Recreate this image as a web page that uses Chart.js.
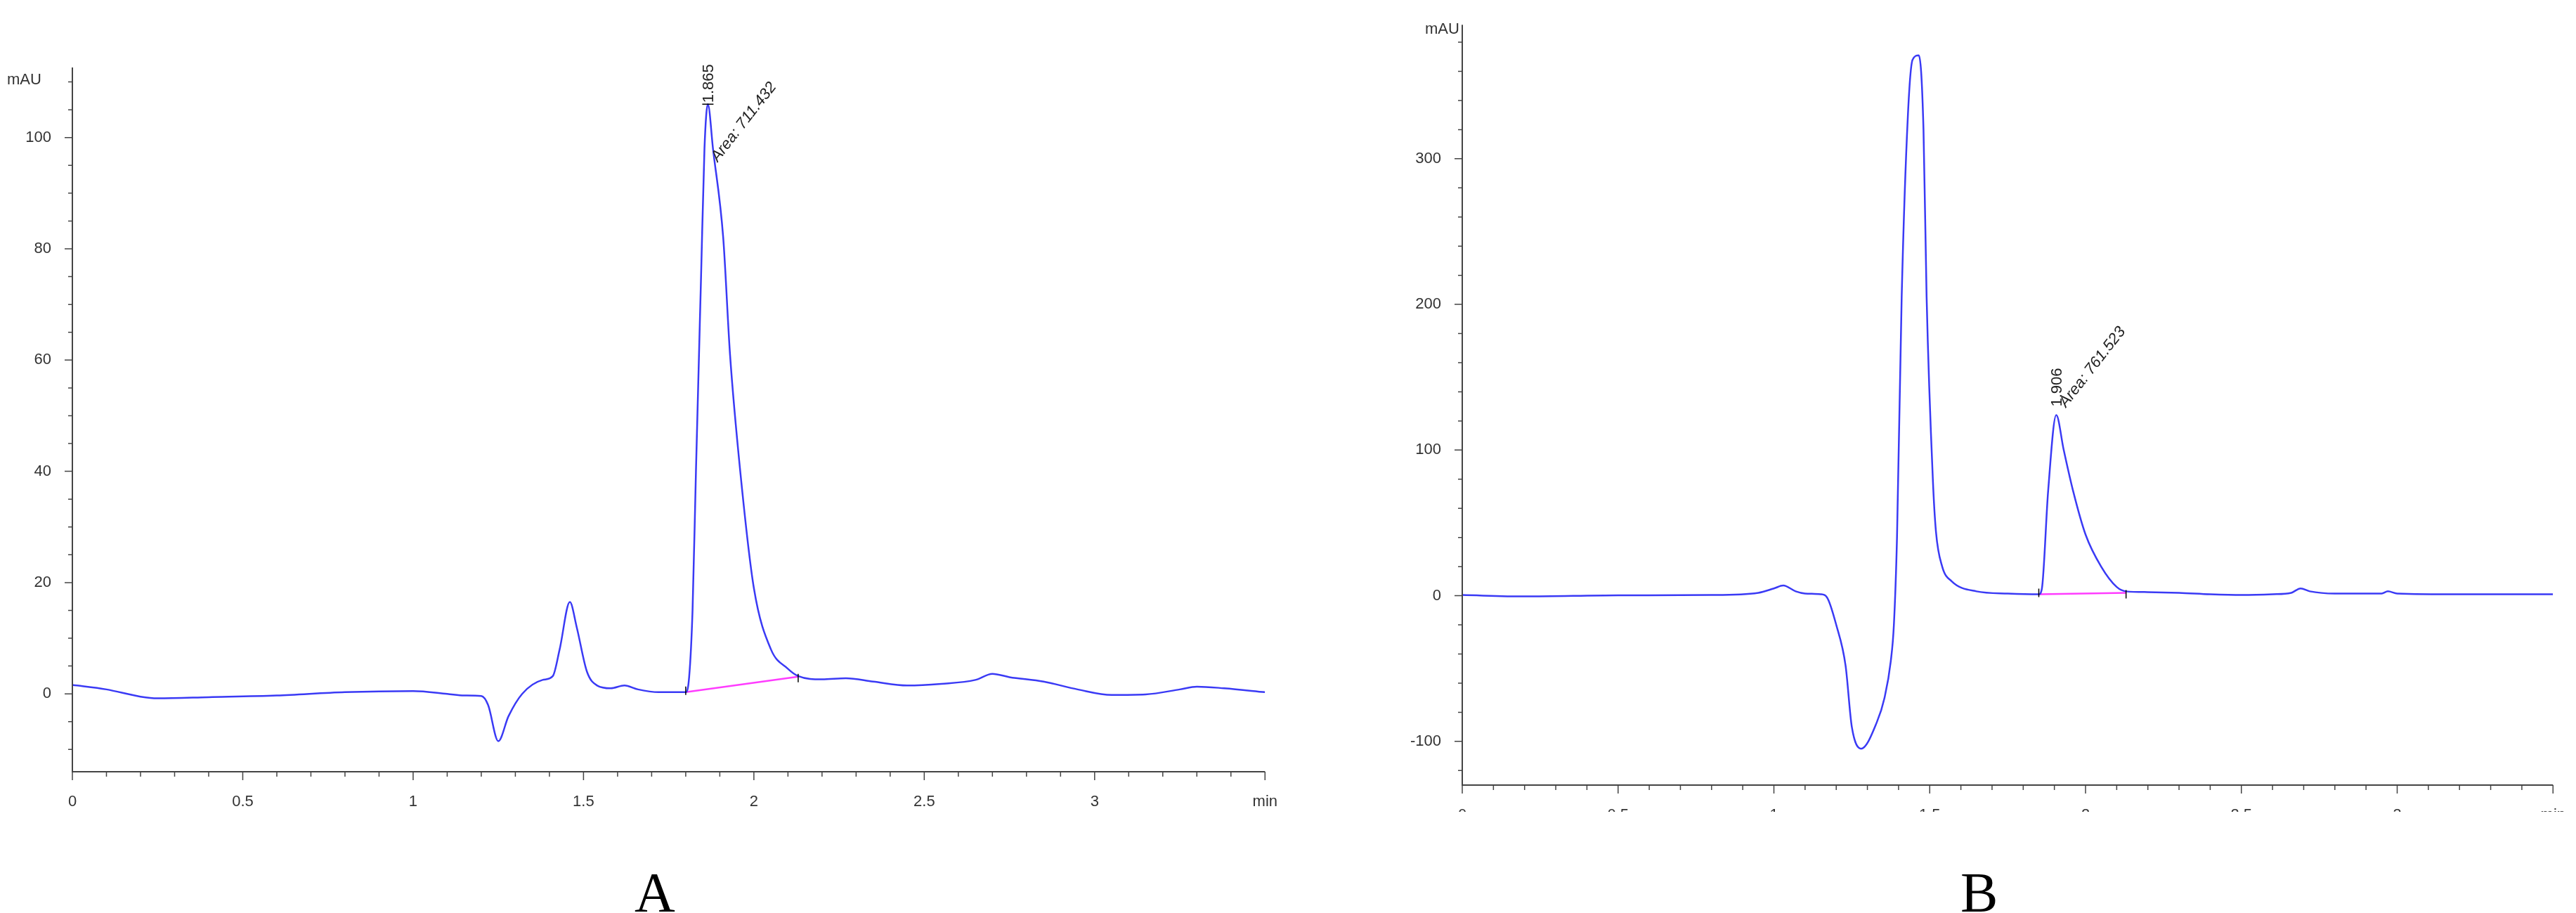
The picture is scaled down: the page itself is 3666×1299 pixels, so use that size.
<!DOCTYPE html>
<html>
<head>
<meta charset="utf-8">
<script src="https://cdn.jsdelivr.net/npm/chart.js@4.4.1/dist/chart.umd.min.js"></script>
<style>
  body { margin: 0; background: #fff; width: 3666px; height: 1299px; position: relative; overflow: hidden; }
  .box { position: absolute; top: 0; overflow: hidden; }
  .lbl { position: absolute; top: 1225px; font: 80px "Liberation Serif", serif; color: #000; }
</style>
</head>
<body>
<div class="box" style="left:0;width:1840px;height:1180px"><canvas id="chartA" width="1840" height="1180"></canvas></div>
<div class="box" style="left:1833px;width:1833px;height:1155px"><canvas id="chartB" width="1840" height="1180"></canvas></div>
<div class="lbl" style="left:903px">A</div>
<div class="lbl" style="left:2790px">B</div>
<script>
// Chromatogramme A
const timeA = [0, 0.1, 0.2, 0.25, 0.4, 0.6, 0.8, 1.0, 1.1, 1.15, 1.2, 1.22, 1.25, 1.28, 1.32, 1.38, 1.41, 1.43, 1.46, 1.48, 1.51, 1.54, 1.58, 1.62, 1.66, 1.72, 1.8, 1.81, 1.82, 1.83, 1.845, 1.855, 1.865, 1.88, 1.91, 1.93, 1.96, 2.0, 2.05, 2.1, 2.13, 2.2, 2.27, 2.35, 2.45, 2.55, 2.65, 2.7, 2.75, 2.85, 2.95, 3.05, 3.15, 3.25, 3.3, 3.38, 3.5];
const signalA = [1.6, 0.8, -0.5, -0.8, -0.6, -0.3, 0.3, 0.5, 0, -0.3, -0.4, -2, -8.5, -4, 0, 2.5, 3.2, 8, 16.5, 12, 4, 1.5, 1, 1.5, 0.8, 0.3, 0.3, 3, 15, 40, 75, 98, 106, 98, 82, 61, 40, 19, 8, 4.5, 3.2, 2.6, 2.8, 2.2, 1.5, 1.8, 2.5, 3.6, 3, 2.2, 0.8, -0.2, -0.1, 0.8, 1.3, 1, 0.3];
const baseTimeA = [1.80, 2.13];
const baseSignalA = [0.3, 3.1];

// Chromatogramme B
const timeB = [0, 0.2, 0.5, 0.8, 0.95, 1.0, 1.03, 1.07, 1.1, 1.15, 1.17, 1.2, 1.23, 1.25, 1.28, 1.33, 1.355, 1.375, 1.385, 1.395, 1.41, 1.43, 1.445, 1.465, 1.48, 1.49, 1.51, 1.52, 1.54, 1.57, 1.65, 1.75, 1.85, 1.86, 1.88, 1.906, 1.93, 1.96, 2.0, 2.05, 2.1, 2.13, 2.2, 2.3, 2.4, 2.5, 2.6, 2.66, 2.69, 2.72, 2.8, 2.95, 2.97, 3.0, 3.2, 3.5];
const signalB = [0.5, -0.5, 0.3, 0.5, 2, 5, 7, 3, 1.5, 1, -1, -20, -48, -90, -105, -87, -70, -45, -20, 40, 205, 330, 368, 371, 320, 205, 80, 44, 20, 10, 3, 1.5, 1, 5, 72, 124, 100, 72, 42, 20, 6, 3, 2.5, 2, 1, 0.5, 1, 2, 5, 3, 1.5, 1.5, 3, 1.5, 1, 1];
const baseTimeB = [1.85, 2.13];
const baseSignalB = [1, 2];

const yTicksA = { min: -14, max: 112.6, minor: 5, major: 20 };
const yTicksB = { min: -130, max: 392, minor: 20, major: 100 };

function zip(xs, ys) {
    return xs.map(function(x, i) { return { x: x, y: ys[i] }; });
}

// Graduations et annotations dessinées via les échelles
const axisPlugin = {
    id: 'axisMarks',
    afterDraw: function(chart, args, opts) {
        const ctx = chart.ctx, xs = chart.scales.x, ys = chart.scales.y, area = chart.chartArea;
        ctx.save();
        ctx.strokeStyle = '#444';
        ctx.lineWidth = 2;
        ctx.beginPath();
        ctx.moveTo(area.left, area.top); ctx.lineTo(area.left, area.bottom);
        ctx.lineTo(area.right, area.bottom);
        ctx.stroke();
        ctx.lineWidth = 1.5;
        ctx.beginPath();
        const start = Math.ceil(ys.min / opts.minor) * opts.minor;
        for (let v = start; v <= ys.max; v += opts.minor) {
            const p = ys.getPixelForValue(v);
            const len = (Math.abs(v % opts.major) < 1e-6) ? 11 : 6;
            ctx.moveTo(area.left - len, p); ctx.lineTo(area.left, p);
        }
        for (let i = 0; i <= 35; i++) {
            const p = xs.getPixelForValue(i / 10);
            const len = (i % 5 === 0) ? 12 : 7;
            ctx.moveTo(p, area.bottom); ctx.lineTo(p, area.bottom + len);
        }
        ctx.stroke();
        ctx.fillStyle = '#333';
        ctx.font = '22px "Liberation Sans", Arial, sans-serif';
        ctx.fillText('mAU', opts.mau[0], opts.mau[1]);

        // Annotation du pic
        const px = xs.getPixelForValue(opts.peak[0]);
        const py = ys.getPixelForValue(opts.peak[1]);
        ctx.strokeStyle = '#000';
        ctx.beginPath();
        ctx.moveTo(xs.getPixelForValue(opts.base[0]), ys.getPixelForValue(opts.baseY[0]) - 8);
        ctx.lineTo(xs.getPixelForValue(opts.base[0]), ys.getPixelForValue(opts.baseY[0]) + 4);
        ctx.moveTo(xs.getPixelForValue(opts.base[1]), ys.getPixelForValue(opts.baseY[1]) - 4);
        ctx.lineTo(xs.getPixelForValue(opts.base[1]), ys.getPixelForValue(opts.baseY[1]) + 8);
        if (opts.peakBar) { ctx.moveTo(px - 8, py); ctx.lineTo(px + 8, py); }
        ctx.stroke();
        ctx.fillStyle = '#222';
        ctx.translate(px + 8, py + opts.labelOffset);
        ctx.rotate(-Math.PI / 2);
        ctx.fillText(opts.label, 0, 0);
        ctx.rotate(Math.PI / 2);
        ctx.translate(6, opts.areaOffset);
        ctx.rotate(-52 * Math.PI / 180);
        ctx.font = 'italic 22px "Liberation Sans", Arial, sans-serif';
        ctx.fillText(opts.area, 0, 0);
        ctx.restore();
    }
};

function makeChart(id, time, signal, baseT, baseS, yt, pad, annot) {
    new Chart(document.getElementById(id), {
        type: 'line',
        data: {
            datasets: [{
                data: zip(time, signal),
                borderColor: '#3a3af5',
                borderWidth: 2.5,
                pointRadius: 0,
                cubicInterpolationMode: 'monotone'
            }, {
                data: zip(baseT, baseS),
                borderColor: '#ff3cff',
                borderWidth: 2.5,
                pointRadius: 0
            }]
        },
        options: {
            responsive: false,
            animation: false,
            devicePixelRatio: 1,
            layout: { padding: { top: pad.top, right: pad.right, left: 0, bottom: 0 } },
            plugins: { legend: { display: false }, tooltip: { enabled: false }, axisMarks: annot },
            scales: {
                x: {
                    type: 'linear', min: 0, max: 3.5,
                    grid: { display: false }, border: { display: false },
                    ticks: {
                        stepSize: 0.5, padding: 22, color: '#333',
                        font: { family: '"Liberation Sans", Arial', size: 22 },
                        callback: function(v) { return v === 3.5 ? 'min' : v; }
                    },
                    afterFit: function(s) { s.height = pad.xh; }
                },
                y: {
                    min: yt.min, max: yt.max,
                    grid: { display: false }, border: { display: false },
                    ticks: {
                        stepSize: yt.minor, padding: 22, color: '#333',
                        font: { family: '"Liberation Sans", Arial', size: 22 },
                        callback: function(v) { return Math.abs(v % yt.major) < 1e-6 ? v : ''; }
                    },
                    afterFit: function(s) { s.width = pad.yw; }
                }
            }
        },
        plugins: [axisPlugin]
    });
}

makeChart('chartA', timeA, signalA, baseTimeA, baseSignalA, yTicksA,
    { top: 96, right: 8, xh: 82, yw: 103 },
    Object.assign({ mau: [10, 120], peak: [1.865, 106], label: '1.865', labelOffset: -2, areaOffset: 85,
        area: 'Area: 711.432', base: baseTimeA, baseY: baseSignalA, peakBar: true }, yTicksA));
makeChart('chartB', timeB, signalB, baseTimeB, baseSignalB, yTicksB,
    { top: 21, right: -7, xh: 63, yw: 248 },
    Object.assign({ mau: [195, 48], peak: [1.906, 124], label: '1.906', labelOffset: -12, areaOffset: 2,
        area: 'Area: 761.523', base: baseTimeB, baseY: baseSignalB, peakBar: false }, yTicksB));
</script>
</body>
</html>
